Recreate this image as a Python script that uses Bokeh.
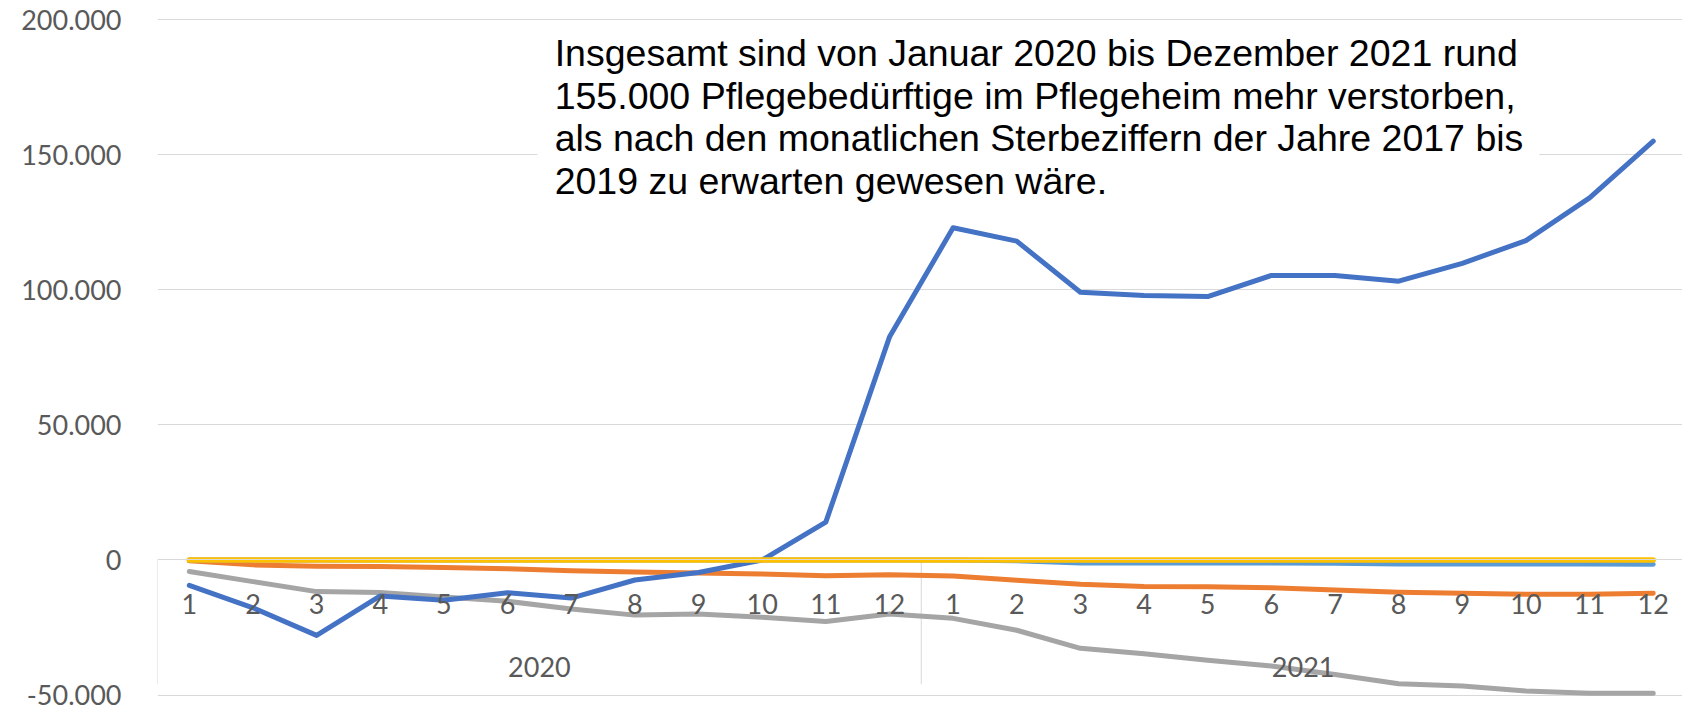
from bokeh.plotting import figure
from bokeh.models import Range1d, FixedTicker, LinearAxis, BoxAnnotation, Label
from bokeh.embed import file_html
from bokeh.resources import INLINE

# ---------------- data ----------------
years = ["2020", "2021"]
months = ["1", "2", "3", "4", "5", "6", "7", "8", "9", "10", "11", "12"]
month_labels = months + months
x_pos = list(range(1, len(month_labels) + 1))

blue = [-9400, -17700, -27900, -13300, -14900, -12100, -14100, -7400, -4600, 0, 14000, 82500,
        122950, 118000, 99100, 97900, 97500, 105300, 105300, 103200, 109800, 118200, 134000, 155000]
orange = [-300, -1800, -2300, -2400, -2800, -3200, -4000, -4400, -4800, -5200, -5800, -5500,
          -5900, -7500, -9000, -9800, -9900, -10300, -11100, -11900, -12300, -12700, -12700, -12300]
gray = [-4250, -8000, -11700, -12000, -13700, -15300, -18100, -20400, -20000, -21200, -22800, -20000,
        -21600, -26000, -32700, -34700, -37100, -39200, -42400, -45800, -46600, -48500, -49300, -49300]
yellow = [0, 0, 0, 0, 0, 0, 0, 0, 0, 0, 0, 0,
          0, 0, 0, 0, 0, 0, 0, 0, 0, 0, 0, 0]
light_blue = [0, 0, 0, 0, 0, 0, 0, 0, 0, 0, 0, 0,
              0, -300, -1100, -1100, -1100, -1100, -1200, -1500, -1500, -1500, -1500, -1600]

y_ticks = [-50000, 0, 50000, 100000, 150000, 200000]
y_tick_labels = ["-50.000", "0", "50.000", "100.000", "150.000", "200.000"]

note = ("Insgesamt sind von Januar 2020 bis Dezember 2021 rund\n"
        "155.000 Pflegebedürftige im Pflegeheim mehr verstorben,\n"
        "als nach den monatlichen Sterbeziffern der Jahre 2017 bis\n"
        "2019 zu erwarten gewesen wäre.")

# ---------------- styling ----------------
AX_FONT = "Lato"
AX_SIZE = "27px"
AX_COLOR = "#595959"
GRID = "#D9D9D9"

p = figure(width=1682, height=705,
           x_range=Range1d(0.5, 24.46), y_range=Range1d(-53850, 207070),
           output_backend="svg", toolbar_location=None,
           x_axis_location=None, min_border=0, min_border_left=157)
p.outline_line_color = None
p.background_fill_color = "white"
p.border_fill_color = "white"
p.xgrid.visible = False

p.ygrid.ticker = FixedTicker(ticks=y_ticks)
p.ygrid.grid_line_color = GRID
p.ygrid.grid_line_width = 1

yax = p.yaxis[0]
yax.ticker = FixedTicker(ticks=y_ticks)
yax.major_label_overrides = {t: l for t, l in zip(y_ticks, y_tick_labels)}
yax.axis_line_color = None
yax.major_tick_line_color = None
yax.minor_tick_line_color = None
yax.major_label_standoff = 30
yax.major_label_text_font = AX_FONT
yax.major_label_text_font_size = AX_SIZE
yax.major_label_text_color = AX_COLOR

# month axis crossing at y = 0
month_axis = LinearAxis(fixed_location=0, ticker=FixedTicker(ticks=x_pos),
                        major_label_overrides={x: l for x, l in zip(x_pos, month_labels)},
                        axis_line_color=GRID, axis_line_width=1,
                        major_tick_line_color=None, minor_tick_line_color=None,
                        major_label_standoff=28,
                        major_label_text_font=AX_FONT, major_label_text_font_size=AX_SIZE,
                        major_label_text_color=AX_COLOR)
p.add_layout(month_axis, "below")

# year group axis
n_per_year = len(months)
year_pos = [0.5 + n_per_year * i + n_per_year / 2 for i in range(len(years))]
yr_ax = LinearAxis(fixed_location=0, ticker=FixedTicker(ticks=year_pos),
                   major_label_overrides={x: l for x, l in zip(year_pos, years)},
                   axis_line_color=None,
                   major_tick_line_color=None, minor_tick_line_color=None,
                   major_label_standoff=91,
                   major_label_text_font=AX_FONT, major_label_text_font_size=AX_SIZE,
                   major_label_text_color=AX_COLOR)
p.add_layout(yr_ax, "below")

# group separators
sep_x = [0.5 + n_per_year * i for i in range(len(years) + 1)]
p.segment(x0=sep_x, y0=[0] * len(sep_x), x1=sep_x, y1=[-46000] * len(sep_x),
          line_color=GRID, line_width=1)

# series
LW = 5
p.line(x_pos, gray, line_color="#A5A5A5", line_width=LW, line_join="round", line_cap="round")
p.line(x_pos, orange, line_color="#ED7D31", line_width=LW, line_join="round", line_cap="round")
p.line(x_pos, blue, line_color="#4472C4", line_width=LW, line_join="round", line_cap="round")
p.line(x_pos, light_blue, line_color="#5B9BD5", line_width=LW, line_join="round", line_cap="round")
p.line(x_pos, yellow, line_color="#FFC000", line_width=5.5, line_join="round", line_cap="round")

# annotation text box
box = BoxAnnotation(left=6.47, right=22.21, top=198000, bottom=131000,
                    fill_color="white", fill_alpha=1.0, line_color=None, line_alpha=0)
p.add_layout(box)
lab = Label(x=6.74, y=195500, text=note, text_font="Liberation Sans",
            text_font_size="37.5px", text_color="black",
            text_baseline="top", text_align="left", text_line_height=1.02)
p.add_layout(lab)

open("out.html", "w").write(file_html(p, INLINE))
